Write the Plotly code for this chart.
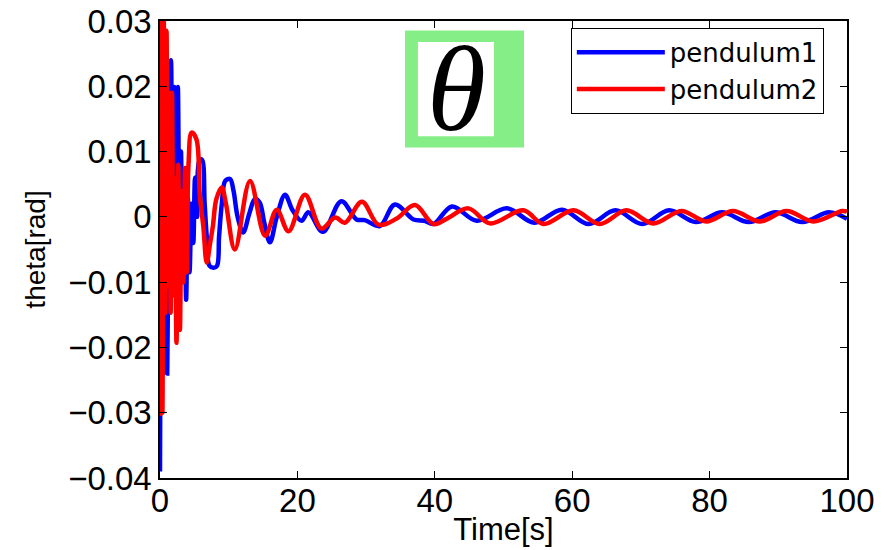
import plotly.graph_objects as go

# ---- data (time in s, angle in rad) ----
t1 = [0.0, 0.25, 0.5, 0.8, 1.05, 1.35, 1.6, 1.85, 2.1, 2.35, 2.6, 2.85, 3.05, 3.3, 3.55,
      3.8, 4.05, 4.3, 4.6, 4.85, 5.1, 5.4, 5.7, 6.1, 6.5, 6.8, 7.2, 7.8, 8.3, 8.6, 9.0,
      9.5, 10.2, 10.7, 11.3, 12.1, 13.0, 13.8, 14.5, 15.2, 16.0, 17.0, 18.2, 19.3, 20.6,
      21.6, 23.7, 26.4, 28.6, 29.8, 32.0, 34.2, 36.9, 38.5, 39.8, 42.5, 46.1, 50.5, 54.5,
      58.5, 62.4, 66.3, 70.2, 74.1, 78.0, 81.8, 85.7, 89.6, 93.5, 97.4, 100.0]
theta1 = [-0.039, 0.010, -0.024, 0.012, -0.024, 0.010, 0.024, -0.008, 0.0199, -0.012, 0.0199,
          -0.006, 0.010, -0.006, 0.004, -0.0127, 0.003, -0.0085, 0.002, -0.004, 0.006, 0.0,
          0.0085, 0.0088, 0.002, -0.003, -0.0075, -0.0078, -0.0075, -0.003, 0.002, 0.0055,
          0.0058, 0.004, 0.0, -0.0024, 0.0005, 0.0027, 0.0022, -0.001, -0.0039, 0.0, 0.0034,
          0.001, -0.0006, 0.0007, -0.0023, 0.0024, -0.0004, -0.0005, -0.0014, 0.0019, -0.0004,
          -0.0006, -0.0011, 0.0016, -0.0006, 0.0013, -0.0009, 0.0011, -0.0011, 0.0010,
          -0.0011, 0.0010, -0.0008, 0.0007, -0.0008, 0.0007, -0.0008, 0.0007, -0.0003]

t2 = [0.0, 0.15, 0.35, 0.55, 0.75, 0.95, 1.15, 1.35, 1.55, 1.75, 1.95, 2.15, 2.4, 2.65, 2.9,
      3.15, 3.4, 3.65, 3.9, 4.15, 4.6, 5.3, 5.8, 6.3, 6.8, 7.3, 7.7, 8.2, 9.0, 9.6, 10.9,
      13.1, 15.3, 17.0, 18.7, 21.1, 23.5, 25.5, 26.9, 29.4, 31.8, 34.4, 37.1, 39.8, 41.7,
      44.9, 48.0, 52.9, 55.8, 60.2, 64.0, 67.9, 71.8, 75.9, 79.5, 83.4, 87.3, 91.2, 95.1,
      99.3, 100.0]
theta2 = [-0.0305, 0.031, -0.030, 0.030, -0.0147, 0.0285, -0.0106, 0.019, -0.0147, 0.019,
          -0.012, 0.006, -0.0193, 0.008, -0.0173, 0.004, -0.010, 0.0075, -0.0085, 0.008,
          0.0129, 0.0119, 0.0032, -0.0014, -0.007, -0.004, -0.0014, 0.0027, 0.0045, 0.002,
          -0.005, 0.0055, -0.0029, 0.0011, -0.0022, 0.0034, -0.0018, -0.0001, -0.0009, 0.0023,
          -0.0012, -0.0003, 0.0018, -0.0011, -0.0003, 0.0013, -0.0010, 0.0010, -0.0011, 0.0010,
          -0.0011, 0.0010, -0.0010, 0.0009, -0.0007, 0.0009, -0.0007, 0.0009, -0.0007, 0.0009,
          0.0008]

names = ["pendulum1", "pendulum2"]
x_ticks = [0, 20, 40, 60, 80, 100]
y_ticks = [-0.04, -0.03, -0.02, -0.01, 0, 0.01, 0.02, 0.03]
y_tick_text = ["\u22120.04", "\u22120.03", "\u22120.02", "\u22120.01", "0", "0.01", "0.02", "0.03"]

FONT = "Liberation Sans, Arial, sans-serif"

fig = go.Figure()
fig.add_trace(go.Scatter(x=t1, y=theta1, mode="lines", name=names[0],
                         line=dict(color="#0000FF", width=4.5, shape="spline", smoothing=1)))
fig.add_trace(go.Scatter(x=t2, y=theta2, mode="lines", name=names[1],
                         line=dict(color="#FF0000", width=4.5, shape="spline", smoothing=1)))

axis_common = dict(showgrid=False, zeroline=False, showline=True, linecolor="black",
                   linewidth=1.5, mirror="ticks", ticks="inside", ticklen=7,
                   tickcolor="black", tickwidth=1, automargin=False,
                   tickfont=dict(family=FONT, size=33, color="black"))

fig.update_xaxes(range=[0, 100], tickvals=x_ticks, ticklabelstandoff=-7,
                 title=dict(text="Time[s]", font=dict(family=FONT, size=31, color="black"),
                            standoff=0),
                 **axis_common)
fig.update_yaxes(range=[-0.04, 0.03], tickvals=y_ticks, ticktext=y_tick_text,
                 title=dict(text="theta[rad]", font=dict(family=FONT, size=28, color="black"),
                            standoff=14),
                 **axis_common)

# theta badge
fig.add_shape(type="rect", xref="paper", yref="paper", x0=0.3566, x1=0.5298,
              y0=0.723, y1=0.979, fillcolor="#86EE86", line=dict(width=0), layer="above")
fig.add_shape(type="rect", xref="paper", yref="paper", x0=0.3755, x1=0.4862,
              y0=0.748, y1=0.954, fillcolor="white", line=dict(width=0), layer="above")
fig.add_annotation(xref="paper", yref="paper", x=0.432, y=0.851, text="<i>\u03b8</i>",
                   showarrow=False, xanchor="center", yanchor="middle",
                   font=dict(family="Liberation Serif, Times New Roman, serif", size=120,
                             color="black"))

fig.update_layout(
    width=887, height=550,
    margin=dict(l=160, r=40, t=21, b=72),
    paper_bgcolor="white", plot_bgcolor="white",
    showlegend=True,
    legend=dict(x=0.598, y=0.985, xanchor="left", yanchor="top",
                bordercolor="black", borderwidth=1, bgcolor="white",
                font=dict(family="DejaVu Sans, sans-serif", size=26, color="black"),
                itemwidth=88, tracegroupgap=0),
)

fig.write_html("out.html", config={"displayModeBar": False},
               post_script="document.body.style.margin='0';document.body.style.padding='0';")
